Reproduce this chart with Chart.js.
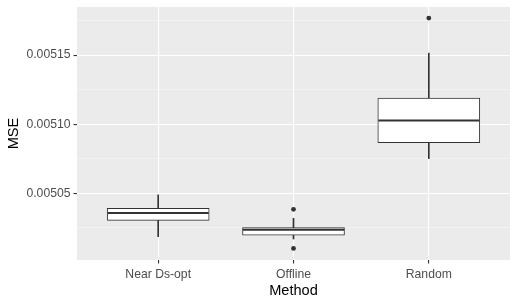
<!DOCTYPE html>
<html>
<head>
<meta charset="utf-8">
<script src="https://cdn.jsdelivr.net/npm/chart.js@4.4.1/dist/chart.umd.min.js"></script>
<style>
  html, body { margin: 0; padding: 0; background: #ffffff; }
  #wrap { width: 518px; height: 306px; }
</style>
</head>
<body>
<div id="wrap"><canvas id="c" width="518" height="306"></canvas></div>
<script>
// ---- data ----
const categories = ['Near Ds-opt', 'Offline', 'Random'];
const whiskerLow  = [0.0050186, 0.0050169, 0.0050751];
const q1          = [0.0050304, 0.0050196, 0.0050867];
const median      = [0.0050357, 0.0050236, 0.0051026];
const q3          = [0.0050391, 0.0050251, 0.0051188];
const whiskerHigh = [0.0050488, 0.0050319, 0.0051514];
const outlierCategory = ['Offline', 'Offline', 'Random'];
const outlierValue    = [0.0050384, 0.0050101, 0.0051768];
const yTickValues = [0.005025, 0.00505, 0.005075, 0.0051, 0.005125, 0.00515, 0.005175];
const yMajorTicks = [0.00505, 0.0051, 0.00515];
const yRange = [0.0050017, 0.0051848];

const xPos = categories.map((c, i) => i + 1);
const isMajor = v => yMajorTicks.some(m => Math.abs(m - v) < 1e-9);

const panelBg = {
  id: 'panelBg',
  beforeDraw(chart) {
    const a = chart.chartArea, ctx = chart.ctx;
    ctx.save();
    ctx.fillStyle = '#EBEBEB';
    ctx.fillRect(a.left, a.top, a.right - a.left, a.bottom - a.top);
    ctx.restore();
  }
};

const dark = '#333333';
new Chart(document.getElementById('c'), {
  type: 'bar',
  data: {
    datasets: [
      {
        label: 'whiskers',
        data: xPos.map((x, i) => ({ x, y: [whiskerLow[i], whiskerHigh[i]] })),
        backgroundColor: dark,
        borderWidth: 0,
        barThickness: 1,
        grouped: false,
        order: 3
      },
      {
        label: 'box',
        data: xPos.map((x, i) => ({ x, y: [q1[i], q3[i]] })),
        backgroundColor: '#FFFFFF',
        borderColor: dark,
        borderWidth: 1,
        borderSkipped: false,
        barThickness: 102,
        grouped: false,
        order: 2
      },
      {
        type: 'scatter',
        label: 'median',
        data: xPos.map((x, i) => ({ x, y: median[i] })),
        pointStyle: 'line',
        pointRadius: 50.5,
        pointHoverRadius: 50.5,
        borderColor: dark,
        borderWidth: 2,
        clip: false,
        order: 1
      },
      {
        type: 'scatter',
        label: 'outliers',
        data: outlierValue.map((v, i) => ({ x: categories.indexOf(outlierCategory[i]) + 1, y: v })),
        pointStyle: 'circle',
        pointRadius: 2.4,
        backgroundColor: dark,
        borderColor: dark,
        borderWidth: 0,
        order: 0
      }
    ]
  },
  options: {
    responsive: false,
    animation: false,
    events: [],
    layout: { autoPadding: false, padding: { left: 0, right: 8, top: 7, bottom: 0 } },
    plugins: { legend: { display: false }, tooltip: { enabled: false } },
    scales: {
      x: {
        type: 'linear',
        min: 0.4,
        max: 3.6,
        offset: false,
        afterBuildTicks(scale) { scale.ticks = xPos.map(v => ({ value: v })); },
        afterFit(scale) { scale.height = 46; scale.paddingLeft = 0; scale.paddingRight = 0; },
        border: { display: false },
        grid: { offset: false, color: '#FFFFFF', lineWidth: 1.1, tickColor: dark, tickLength: 3.5, drawTicks: true },
        ticks: {
          callback: (v) => categories[Math.round(v) - 1] || '',
          color: '#4D4D4D',
          font: { family: 'Liberation Sans', size: 12.2 },
          padding: 4,
          maxRotation: 0,
          autoSkip: false
        },
        title: {
          display: true,
          text: 'Method',
          color: '#000000',
          font: { family: 'Liberation Sans', size: 14.6 },
          padding: { top: 0, bottom: 6 }
        }
      },
      y: {
        type: 'linear',
        min: yRange[0],
        max: yRange[1],
        afterBuildTicks(scale) { scale.ticks = yTickValues.map(v => ({ value: v })); },
        afterFit(scale) { scale.width = 77; scale.paddingTop = 0; scale.paddingBottom = 0; },
        border: { display: false },
        grid: {
          color: ctx => ctx.tick && isMajor(ctx.tick.value) ? '#FFFFFF' : '#F7F7F7',
          lineWidth: ctx => ctx.tick && isMajor(ctx.tick.value) ? 1.1 : 0.55,
          tickColor: ctx => ctx.tick && isMajor(ctx.tick.value) ? dark : 'rgba(0,0,0,0)',
          tickLength: 3.5,
          drawTicks: true
        },
        ticks: {
          callback: (v) => isMajor(v) ? v.toFixed(5) : '',
          color: '#4D4D4D',
          font: { family: 'Liberation Sans', size: 12.2 },
          padding: 3,
          autoSkip: false
        },
        title: {
          display: true,
          text: 'MSE',
          color: '#000000',
          font: { family: 'Liberation Sans', size: 14.6 },
          padding: { top: 5, bottom: 0 }
        }
      }
    }
  },
  plugins: [panelBg]
});
</script>
</body>
</html>
